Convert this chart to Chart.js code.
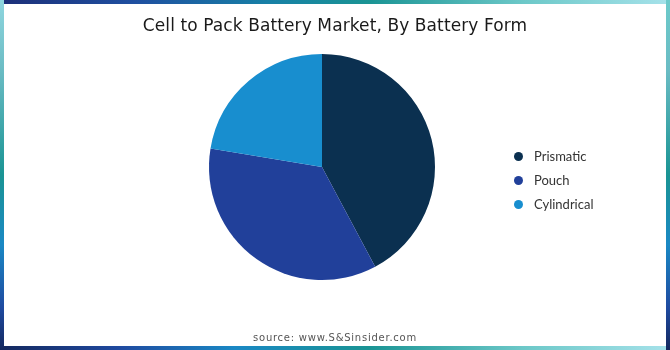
<!DOCTYPE html>
<html>
<head>
<meta charset="utf-8">
<script src="https://cdn.jsdelivr.net/npm/chart.js@4"></script>
<style>
  html, body { margin:0; padding:0; background:#fff; }
  #wrap { position:relative; width:670px; height:350px; overflow:hidden; background:#fff; }
  #chart { position:absolute; left:0; top:0; }
  .edge { position:absolute; }
  #eTop { left:0; top:0; width:670px; height:4px;
    background:linear-gradient(to right,#1c2f78 0%,#1f4fa0 20%,#1780a6 40%,#1a9494 55%,#6cc8c8 78%,#a6e2ea 100%); }
  #eBot { left:0; bottom:0; width:670px; height:4px;
    background:linear-gradient(to right,#14285e 0%,#1f4aa0 18%,#1a88c4 35%,#1a9494 55%,#6cc8c8 78%,#a6e2ea 100%); }
  #eLeft { left:0; top:0; width:4px; height:350px;
    background:linear-gradient(to bottom,#8fd6df 0%,#6bbcc4 20%,#1a9494 50%,#1a88c4 70%,#1f4aa0 88%,#14285e 100%); }
  #eRight { right:0; top:0; width:4px; height:350px;
    background:linear-gradient(to bottom,#6ccaca 0%,#6bbcc4 20%,#1a9494 50%,#1a88c4 70%,#1f4aa0 88%,#14285e 100%); }
  #title { position:absolute; left:0; width:670px; top:15px; line-height:20px; text-align:center;
    font-family:"DejaVu Sans", sans-serif; font-size:17px; color:#1a1a1a; letter-spacing:0.1px; }
  #source { position:absolute; left:0; width:670px; top:332px; text-align:center;
    font-family:"DejaVu Sans", sans-serif; font-size:10px; color:#555; letter-spacing:0.75px; }
  #legend { position:absolute; left:514px; top:144px; font-family:"Lato","Open Sans",sans-serif; font-size:13px; color:#333; }
  .li { height:24px; display:flex; align-items:center; white-space:nowrap; }
  .dot { width:9px; height:9px; border-radius:50%; margin-right:11px; }
</style>
</head>
<body>
<div id="wrap">
  <canvas id="chart" width="670" height="350"></canvas>
  <div id="title">Cell to Pack Battery Market, By Battery Form</div>
  <div id="legend"></div>
  <div id="source">source: www.S&amp;Sinsider.com</div>
  <div class="edge" id="eTop"></div>
  <div class="edge" id="eBot"></div>
  <div class="edge" id="eLeft"></div>
  <div class="edge" id="eRight"></div>
</div>
<script>
const categories = ["Prismatic", "Pouch", "Cylindrical"];
const shares = [42.2, 35.4, 22.4];
const colors = ["#0b3050", "#21409a", "#188ecf"];

const chart = new Chart(document.getElementById('chart'), {
  type: 'pie',
  data: {
    labels: categories,
    datasets: [{ data: shares, backgroundColor: colors, borderWidth: 0 }]
  },
  options: {
    responsive: false,
    animation: false,
    events: [],
    layout: { padding: { left: 209, right: 235, top: 54, bottom: 70 } },
    plugins: { legend: { display: false }, tooltip: { enabled: false }, title: { display: false } }
  }
});

const lg = document.getElementById('legend');
chart.data.labels.forEach((lab, i) => {
  const row = document.createElement('div'); row.className = 'li';
  const d = document.createElement('span'); d.className = 'dot';
  d.style.background = chart.data.datasets[0].backgroundColor[i];
  const t = document.createElement('span'); t.textContent = lab;
  row.appendChild(d); row.appendChild(t); lg.appendChild(row);
});
</script>
</body>
</html>
